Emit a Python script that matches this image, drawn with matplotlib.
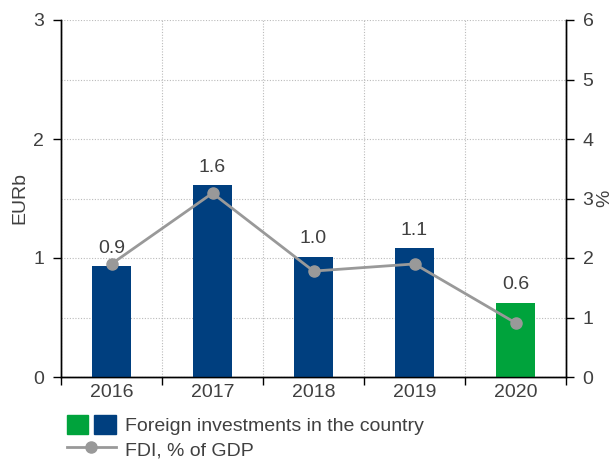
import matplotlib
matplotlib.use("Agg")
import matplotlib.pyplot as plt
from matplotlib.patches import Patch
from matplotlib.lines import Line2D
from matplotlib.legend_handler import HandlerTuple

plt.rcParams['font.family'] = ['Liberation Sans', 'DejaVu Sans']

years = ["2016", "2017", "2018", "2019", "2020"]
investments = [0.93, 1.61, 1.01, 1.08, 0.62]
invest_labels = ["0.9", "1.6", "1.0", "1.1", "0.6"]
fdi_pct = [1.90, 3.09, 1.78, 1.90, 0.91]

blue = "#003f7f"
green = "#00a33c"
gray = "#999999"
txt = "#404040"
FS = 14

fig = plt.figure(figsize=(6.15, 4.62), dpi=100)
ax = fig.add_axes([61/615, 1-377/462, (566-61)/615, (377-20)/462])
ax2 = ax.twinx()

x = list(range(len(years)))
colors = [blue]*4 + [green]
ax.bar(x, investments, width=0.38, color=colors, zorder=3)
for xi, v, lab in zip(x, investments, invest_labels):
    ax.annotate(lab, (xi, v), xytext=(0, 7), textcoords="offset points",
                ha="center", va="bottom", fontsize=FS, color=txt)

ax2.plot(x, fdi_pct, color=gray, lw=2, marker="o", ms=8, zorder=4)

ax.set_xlim(-0.5, 4.5)
ax.set_ylim(0, 3)
ax2.set_ylim(0, 6)
ax.set_yticks([0, 1, 2, 3])
ax.set_yticks([0.5, 1.5, 2.5], minor=True)
ax2.set_yticks([0, 1, 2, 3, 4, 5, 6])

ax.set_xticks([-0.5, 0.5, 1.5, 2.5, 3.5, 4.5])
ax.set_xticklabels([])
ax.set_xticks(x, minor=True)
ax.set_xticklabels(years, minor=True)
ax.tick_params(axis="x", which="major", length=6, width=1, direction="out", color="black")
ax.tick_params(axis="x", which="minor", length=0, pad=5, labelsize=FS, labelcolor=txt)
ax.tick_params(axis="y", which="major", length=6, width=1, direction="out", pad=6, labelsize=FS, labelcolor=txt)
ax.tick_params(axis="y", which="minor", length=0)
ax2.tick_params(axis="y", length=6, width=1, direction="out", pad=6, labelsize=FS, labelcolor=txt)

ax.grid(True, axis="y", which="both", linestyle=(0, (1, 1.5)), color="#bbbbbb", lw=0.8, zorder=0)
ax.grid(True, axis="x", which="major", linestyle=(0, (1, 1.5)), color="#bbbbbb", lw=0.8, zorder=0)
ax.set_axisbelow(True)

for a in (ax, ax2):
    a.spines["top"].set_visible(False)
    for s in ("left", "right", "bottom"):
        a.spines[s].set_color("black")
        a.spines[s].set_linewidth(1)

ax.set_ylabel("EURb", fontsize=FS, color=txt, labelpad=4)
ax2.set_ylabel("%", fontsize=FS, color=txt, labelpad=2)

h_bars = (Patch(color=green), Patch(color=blue))
h_line = Line2D([], [], color=gray, lw=2, marker="o", ms=8)
fig.legend([h_bars, h_line], ["Foreign investments in the country", "FDI, % of GDP"],
           handler_map={tuple: HandlerTuple(ndivide=None, pad=0.3)},
           loc="upper left", bbox_to_anchor=(67/615, 1-415/462), frameon=False,
           fontsize=FS, labelcolor=txt, handlelength=2.5, handleheight=1.15,
           handletextpad=0.5, labelspacing=0.2, borderaxespad=0, borderpad=0)

fig.savefig("out.png", dpi=100)
